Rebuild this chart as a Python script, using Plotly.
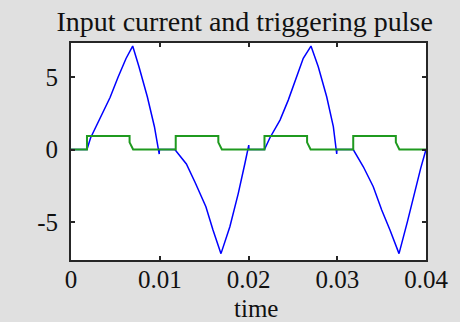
import plotly.graph_objects as go

# Input current (blue)
t_current = [0.0, 0.0018, 0.0022, 0.0033, 0.0044, 0.0053, 0.0062, 0.00695,
             0.00766, 0.0086, 0.0094, 0.00994, 0.00996,
             0.0117, 0.0130, 0.0140, 0.0152, 0.0160, 0.0169,
             0.0179, 0.01885, 0.0196, 0.02003, 0.02005,
             0.0218, 0.0224, 0.02355, 0.02448, 0.02543, 0.02617, 0.02704,
             0.02786, 0.02881, 0.02956, 0.02994, 0.02996,
             0.0318, 0.03294, 0.03406, 0.03501, 0.03594, 0.03696,
             0.0379, 0.0387, 0.0394, 0.0400]
i_current = [0.0, 0.0, 0.8, 2.2, 3.6, 5.0, 6.3, 7.16,
             5.73, 3.65, 1.58, -0.31, 0.0,
             0.0, -1.0, -2.3, -3.96, -5.57, -7.2,
             -5.34, -3.03, -0.95, 0.31, 0.0,
             0.0, 0.8, 2.04, 3.42, 5.03, 6.31, 7.16,
             5.73, 3.65, 1.58, -0.31, 0.0,
             0.0, -1.19, -2.57, -4.18, -5.57, -7.2,
             -5.0, -3.0, -1.3, 0.0]

# Triggering pulse (green)
t_pulse = [0.0, 0.0018, 0.0018, 0.0066, 0.0066, 0.0070,
           0.0118, 0.0118, 0.0166, 0.0166, 0.0170,
           0.0218, 0.0218, 0.0266, 0.0266, 0.0270,
           0.0318, 0.0318, 0.0366, 0.0366, 0.0370, 0.0400]
g_pulse = [0.0, 0.0, 0.93, 0.93, 0.5, 0.0,
           0.0, 0.93, 0.93, 0.5, 0.0,
           0.0, 0.93, 0.93, 0.5, 0.0,
           0.0, 0.93, 0.93, 0.5, 0.0, 0.0]

x_ticks = [0, 0.01, 0.02, 0.03, 0.04]
x_ticktext = ["0", "0.01", "0.02", "0.03", "0.04"]
y_ticks = [-5, 0, 5]
y_ticktext = ["-5", "0", "5"]

FONT = "Liberation Serif"
AX = "#262626"

fig = go.Figure()
fig.add_trace(go.Scatter(x=t_current, y=i_current, mode="lines",
                         line=dict(color="#0000ff", width=1.5), showlegend=False))
fig.add_trace(go.Scatter(x=t_pulse, y=g_pulse, mode="lines",
                         line=dict(color="#1f9a1f", width=2), showlegend=False))

fig.update_layout(
    width=460, height=322,
    margin=dict(l=71, r=34, t=43, b=62),
    paper_bgcolor="#e0e0e0",
    plot_bgcolor="#ffffff",
    font=dict(family=FONT, size=25, color="#111111"),
    title=dict(text="Input current and triggering pulse", x=0.532, xanchor="center",
               y=0.935, yanchor="middle", yref="container",
               font=dict(family=FONT, size=28, color="#111111")),
    xaxis=dict(range=[0, 0.04], tickvals=x_ticks, ticktext=x_ticktext,
               showgrid=False, zeroline=False, showline=True, linecolor=AX, linewidth=2,
               mirror="ticks", ticks="inside", ticklen=4, tickwidth=1.5, tickcolor=AX,
               ticklabelstandoff=-4),
    yaxis=dict(range=[-7.64, 7.37], tickvals=y_ticks, ticktext=y_ticktext,
               showgrid=False, zeroline=False, showline=True, linecolor=AX, linewidth=2,
               mirror="ticks", ticks="inside", ticklen=4, tickwidth=1.5, tickcolor=AX,
               ticklabelstandoff=6),
    annotations=[dict(text="time", x=0.521, xref="paper", y=-0.222, yref="paper",
                      xanchor="center", yanchor="middle", showarrow=False,
                      font=dict(family=FONT, size=25, color="#111111"))],
)

fig.write_html("out.html")
